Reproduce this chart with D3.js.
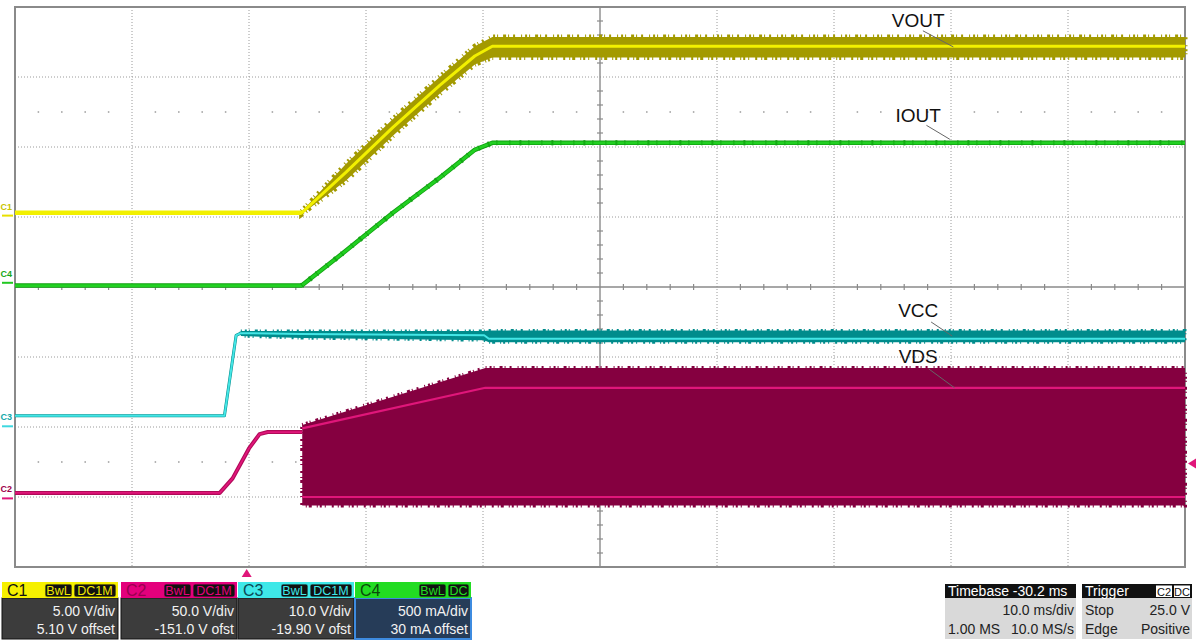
<!DOCTYPE html>
<html>
<head>
<meta charset="utf-8">
<script src="https://cdn.jsdelivr.net/npm/d3@7"></script>
<style>
  body { margin: 0; background: #fff; }
  svg { display: block; font-family: "Liberation Sans", Arial, sans-serif; }
</style>
</head>
<body>
<svg width="1200" height="642"></svg>
<script>
// Time axis in ms, trigger point at 0 (timebase -30.2 ms, 10 ms/div)
var timeDomain = [-19.8, 80.2];

// Channel setup
var channelNames = ["C1", "C2", "C3", "C4"];
var channelScales = [5.0, 50.0, 10.0, 0.5];      // units per div
var channelOffsets = [5.10, -151.0, -19.90, 0.03]; // units
var scaleLabels = ["5.00 V/div", "50.0 V/div", "10.0 V/div", "500 mA/div"];
var offsetLabels = ["5.10 V offset", "-151.0 V ofst", "-19.90 V ofst", "30 mA offset"];
var couplingBadges = [["BwL", "DC1M"], ["BwL", "DC1M"], ["BwL", "DC1M"], ["BwL", "DC"]];

// VOUT (C1, V)
var voutTime = [-19.8, 4.7, 8.5, 12.5, 16.5, 19.5, 21.0, 80.2];
var voutMid  = [0.2, 0.2, 3.1, 6.3, 9.3, 11.4, 12.1, 12.1];
var voutHigh = [0.3, 0.3, 3.7, 6.9, 9.9, 12.1, 12.75, 12.75];
var voutLow  = [0.1, 0.1, 2.5, 5.7, 8.7, 10.8, 11.3, 11.3];

// IOUT (C4, A)
var ioutTime = [-19.8, 4.7, 8.5, 12.5, 16.5, 19.5, 21.0, 80.2];
var ioutMid  = [-0.02, -0.02, 0.23, 0.5, 0.75, 0.95, 1.0, 1.0];

// VCC (C3, V)
var vccTime = [-19.8, -1.9, -0.9, -0.5, 4.7, 20.3, 20.7, 80.2];
var vccMid  = [1.5, 1.5, 13.0, 13.3, 13.2, 13.0, 12.5, 12.5];
var vccHigh = [1.6, 1.6, 13.2, 13.6, 13.6, 13.6, 13.7, 13.7];
var vccLow  = [1.3, 1.3, 12.8, 12.9, 12.6, 12.3, 12.0, 12.0];

// VDS (C2, V) before switching starts
var vdsTime = [-19.8, -2.3, -1.2, 0.2, 1.1, 1.8, 4.75];
var vdsMid  = [3.9, 3.9, 14.3, 35.7, 45.9, 47.4, 47.4];
// VDS switching envelope and its two bright levels
var vdsBandTime = [4.75, 20.4, 80.2];
var vdsBandHigh = [52.4, 93.1, 93.1];
var vdsBandLow  = [-5.0, -5.0, -5.0];
var vdsUpper    = [50.0, 79.0, 79.0];
var vdsLower    = [1.0, 1.0, 1.0];

// Trigger
var triggerTime = 0;
var triggerLevel = 25.0; // V on C2

// Annotations
var annotationText = ["VOUT", "IOUT", "VCC", "VDS"];

// ---------------------------------------------------------------
var svg = d3.select("svg");
var plot = { left: 15, right: 1185, top: 7, bottom: 567 };

var x = d3.scaleLinear().domain(timeDomain).range([plot.left, plot.right]);
var yDiv = d3.scaleLinear().domain([-4, 4]).range([plot.bottom, plot.top]);
function yCh(ch, v) {
  return yDiv((v + channelOffsets[ch]) / channelScales[ch]);
}

var traceColors = {
  C1: { band: "#a39a00", line: "#f2f000" },
  C2: { band: "#850040", line: "#e0167a", dark: "#b00a58" },
  C3: { band: "#008c8c", line: "#44e6e6" },
  C4: { band: "#10a010", line: "#22d022" }
};
// ragged edge look of the acquisition noise (style only)
var raggedDash = "1,3,2,2,1,5,3,2,1,4,2,6";

// Grid
var grid = svg.append("g").attr("id", "grid");
var xDivTimes = d3.range(11).map((i) => timeDomain[0] + i * 10);
var centerTime = timeDomain[0] + 50;

grid.selectAll("line.vgrid")
  .data(xDivTimes.slice(1, 10).filter((t, i) => i !== 4))
  .enter().append("line")
  .attr("x1", (t) => x(t)).attr("x2", (t) => x(t))
  .attr("y1", plot.top).attr("y2", plot.bottom)
  .attr("stroke", "#9a9a9a").attr("stroke-dasharray", "1,2");

grid.selectAll("line.hgrid")
  .data([-3, -2, -1, 1, 2, 3])
  .enter().append("line")
  .attr("x1", plot.left).attr("x2", plot.right)
  .attr("y1", (d) => yDiv(d)).attr("y2", (d) => yDiv(d))
  .attr("stroke", "#9a9a9a").attr("stroke-dasharray", "1,2");

// dot rows at +-2.5 div
var subTimes = d3.range(1, 50).filter((i) => i % 5 !== 0).map((i) => timeDomain[0] + i * 2);
[2.5, -2.5].forEach((d) => {
  grid.selectAll(null)
    .data(subTimes)
    .enter().append("rect")
    .attr("x", (t) => x(t) - 0.75).attr("y", yDiv(d) - 0.75)
    .attr("width", 1.5).attr("height", 1.5)
    .attr("fill", "#9a9a9a");
});

// center axes with ticks
grid.append("line")
  .attr("x1", plot.left).attr("x2", plot.right)
  .attr("y1", yDiv(0)).attr("y2", yDiv(0))
  .attr("stroke", "#8a8a8a").attr("stroke-width", 1.4);
grid.append("line")
  .attr("x1", x(centerTime)).attr("x2", x(centerTime))
  .attr("y1", plot.top).attr("y2", plot.bottom)
  .attr("stroke", "#8a8a8a").attr("stroke-width", 1.4);

grid.selectAll(null)
  .data(subTimes)
  .enter().append("line")
  .attr("x1", (t) => x(t)).attr("x2", (t) => x(t))
  .attr("y1", yDiv(0) - 3).attr("y2", yDiv(0) + 3)
  .attr("stroke", "#8a8a8a").attr("stroke-width", 1.2);

grid.selectAll(null)
  .data(d3.range(-19, 20).filter((i) => i % 5 !== 0).map((i) => i * 0.2))
  .enter().append("line")
  .attr("x1", x(centerTime) - 3).attr("x2", x(centerTime) + 3)
  .attr("y1", (d) => yDiv(d)).attr("y2", (d) => yDiv(d))
  .attr("stroke", "#8a8a8a").attr("stroke-width", 1.2);

grid.append("rect")
  .attr("x", plot.left).attr("y", plot.top)
  .attr("width", plot.right - plot.left).attr("height", plot.bottom - plot.top)
  .attr("fill", "none").attr("stroke", "#8a8a8a").attr("stroke-width", 2);

// Traces
var traces = svg.append("g").attr("id", "traces");

function bandArea(ch) {
  return d3.area()
    .x((d) => x(d[0]))
    .y0((d) => yCh(ch, d[1]))
    .y1((d) => yCh(ch, d[2]));
}
function traceLine(ch) {
  return d3.line()
    .x((d) => x(d[0]))
    .y((d) => yCh(ch, d[1]));
}
// noisy part of a trace: filled envelope with ragged edges
function drawBand(ch, data, color, ragged) {
  traces.append("path")
    .datum(data)
    .attr("d", bandArea(ch))
    .attr("fill", color)
    .attr("stroke", color)
    .attr("stroke-width", ragged)
    .attr("stroke-dasharray", raggedDash);
}
function drawLine(ch, data, color, width) {
  traces.append("path")
    .datum(data)
    .attr("d", traceLine(ch))
    .attr("fill", "none")
    .attr("stroke", color)
    .attr("stroke-width", width)
    .attr("stroke-linejoin", "round");
}

// C2 VDS
drawBand(1, d3.zip(vdsBandTime, vdsBandLow, vdsBandHigh), traceColors.C2.band, 4);
drawLine(1, d3.zip(vdsTime, vdsMid), traceColors.C2.dark, 4);
drawLine(1, d3.zip(vdsTime, vdsMid), traceColors.C2.line, 1.8);
[vdsUpper, vdsLower].forEach((level) => {
  drawLine(1, d3.zip(vdsBandTime, level), traceColors.C2.line, 2.2);
});

// C3 VCC (noise only after the supply comes up)
drawBand(2, d3.zip(vccTime, vccLow, vccHigh).filter((d) => d[0] >= -0.5), traceColors.C3.band, 3);
drawLine(2, d3.zip(vccTime, vccMid), traceColors.C3.band, 3);
drawLine(2, d3.zip(vccTime, vccMid), traceColors.C3.line, 2);

// C4 IOUT
drawLine(3, d3.zip(ioutTime, ioutMid), traceColors.C4.band, 4.5);
drawLine(3, d3.zip(ioutTime, ioutMid), traceColors.C4.line, 2.8);
traces.append("path")
  .datum(d3.zip(ioutTime, ioutMid).filter((d) => d[0] >= 4.7))
  .attr("d", traceLine(3))
  .attr("fill", "none").attr("stroke", traceColors.C4.band).attr("stroke-width", 5.5)
  .attr("stroke-dasharray", "1,9,2,7,1,12").attr("opacity", 0.8);

// C1 VOUT (noise band once the output ramps)
drawBand(0, d3.zip(voutTime, voutLow, voutHigh).filter((d) => d[0] >= 4.7), traceColors.C1.band, 5);
drawLine(0, d3.zip(voutTime, voutMid), traceColors.C1.line, 3);
drawLine(0, d3.zip(voutTime, voutMid).filter((d) => d[0] <= 4.7), traceColors.C1.line, 4.5);

// Annotations: text position (time, div) and leader line (time, div)
var annotationLayout = [
  { t: 57.4, d: 3.71, lx1: 57.8, ly1: 3.66, lx2: 60.4, ly2: 3.43 },
  { t: 57.4, d: 2.36, lx1: 58.1, ly1: 2.31, lx2: 60.1, ly2: 2.11 },
  { t: 57.4, d: -0.43, lx1: 58.5, ly1: -0.5, lx2: 60.3, ly2: -0.7 },
  { t: 57.4, d: -1.09, lx1: 58.3, ly1: -1.17, lx2: 60.5, ly2: -1.44 }
];
var notes = svg.append("g").attr("id", "notes");
notes.selectAll("line")
  .data(annotationLayout)
  .enter().append("line")
  .attr("x1", (a) => x(a.lx1)).attr("y1", (a) => yDiv(a.ly1))
  .attr("x2", (a) => x(a.lx2)).attr("y2", (a) => yDiv(a.ly2))
  .attr("stroke", "#666").attr("stroke-width", 1);
notes.selectAll("text")
  .data(annotationLayout)
  .enter().append("text")
  .attr("x", (a) => x(a.t)).attr("y", (a) => yDiv(a.d))
  .attr("text-anchor", "middle")
  .attr("font-size", 19)
  .attr("fill", "#111")
  .text((a, i) => annotationText[i]);

// Channel tags and ground markers at left edge
var tagColors = ["#c8c400", "#a0004a", "#11a8a8", "#18a818"];
var markerColors = ["#e8e000", "#e0167a", "#3ed8e0", "#22c822"];
var tags = svg.append("g").attr("id", "tags");
channelNames.forEach((name, ch) => {
  var y0 = yCh(ch, 0);
  tags.append("line")
    .attr("x1", 2).attr("x2", 13)
    .attr("y1", y0).attr("y2", y0)
    .attr("stroke", markerColors[ch]).attr("stroke-width", 2);
  tags.append("text")
    .attr("x", 0.5).attr("y", y0 - 6)
    .attr("font-size", 9).attr("font-weight", "bold")
    .attr("fill", tagColors[ch])
    .text(name);
});

// Trigger markers
var trig = svg.append("g").attr("id", "trigger");
var tx = x(triggerTime);
trig.append("path")
  .attr("d", `M${tx - 5},${plot.bottom + 10} L${tx + 5},${plot.bottom + 10} L${tx},${plot.bottom + 2} Z`)
  .attr("fill", "#e0167a");
var ty = yCh(1, triggerLevel);
trig.append("path")
  .attr("d", `M${plot.right + 11},${ty - 5} L${plot.right + 11},${ty + 5} L${plot.right + 3},${ty} Z`)
  .attr("fill", "#e0167a");

// Bottom panel: channel descriptors
var panel = svg.append("g").attr("id", "panel");
var boxLeft = [2, 121, 238, 355];
var boxW = 116;
var headerY = 582, headerH = 16, bodyH = 41;
var headerColors = ["#f6f000", "#e4007c", "#3ee8e8", "#22dc22"];
var headerText = ["#111", "#9a0050", "#0a4a55", "#0a4a0a"];
var badgeText = ["#f0e800", "#e4007c", "#3ee8e8", "#22dc22"];
var badgeW = { BwL: 27, DC1M: 42, DC: 21 };

channelNames.forEach((name, ch) => {
  var g = panel.append("g").attr("transform", `translate(${boxLeft[ch]},0)`);
  g.append("rect")
    .attr("x", 0).attr("y", headerY + headerH)
    .attr("width", boxW).attr("height", bodyH)
    .attr("fill", ch === 3 ? "#263c58" : "#3c3c3c")
    .attr("stroke", ch === 3 ? "#3d8be0" : "#111")
    .attr("stroke-width", ch === 3 ? 2 : 1);
  g.append("rect")
    .attr("x", 0).attr("y", headerY)
    .attr("width", boxW).attr("height", headerH)
    .attr("fill", headerColors[ch]);
  g.append("text")
    .attr("x", 5).attr("y", headerY + 14)
    .attr("font-size", 16).attr("fill", headerText[ch])
    .text(name);

  var right = boxW - 2;
  couplingBadges[ch].slice().reverse().forEach((b) => {
    var w = badgeW[b];
    right -= w;
    g.append("rect")
      .attr("x", right).attr("y", headerY + 2)
      .attr("width", w).attr("height", headerH - 3)
      .attr("rx", 2)
      .attr("fill", "#111").attr("stroke", badgeText[ch]).attr("stroke-width", 0.8);
    g.append("text")
      .attr("x", right + w / 2).attr("y", headerY + 13)
      .attr("text-anchor", "middle")
      .attr("font-size", 12.5).attr("fill", badgeText[ch])
      .text(b);
    right -= 2;
  });

  g.append("text")
    .attr("x", boxW - 3).attr("y", 616)
    .attr("text-anchor", "end").attr("font-size", 14).attr("fill", "#f2f2f2")
    .text(scaleLabels[ch]);
  g.append("text")
    .attr("x", boxW - 3).attr("y", 634)
    .attr("text-anchor", "end").attr("font-size", 14).attr("fill", "#f2f2f2")
    .text(offsetLabels[ch]);
});

// Timebase and trigger descriptors
var timebaseRows = [["", "10.0 ms/div"], ["1.00 MS", "10.0 MS/s"]];
var triggerRows = [["Stop", "25.0 V"], ["Edge", "Positive"]];
var infoBoxes = [
  { x: 945, w: 131, title: "Timebase -30.2 ms", rows: timebaseRows, badges: [] },
  { x: 1082, w: 110, title: "Trigger", rows: triggerRows, badges: ["C2", "DC"] }
];
infoBoxes.forEach((box) => {
  var g = panel.append("g").attr("transform", `translate(${box.x},0)`);
  g.append("rect")
    .attr("x", 0).attr("y", 597).attr("width", box.w).attr("height", 42)
    .attr("fill", "#d9d9d9");
  g.append("rect")
    .attr("x", 0).attr("y", 584).attr("width", box.w).attr("height", 14)
    .attr("fill", "#111");
  g.append("text")
    .attr("x", 3).attr("y", 596)
    .attr("font-size", 14).attr("fill", "#fff")
    .text(box.title);
  var right = box.w - 1;
  box.badges.slice().reverse().forEach((b) => {
    right -= 17;
    g.append("rect")
      .attr("x", right).attr("y", 585.5).attr("width", 16).attr("height", 11.5)
      .attr("fill", "#fff");
    g.append("text")
      .attr("x", right + 8).attr("y", 595.5)
      .attr("text-anchor", "middle").attr("font-size", 11)
      .attr("fill", "#111")
      .text(b);
    right -= 1;
  });
  box.rows.forEach((row, i) => {
    var yy = 615 + i * 19;
    g.append("text")
      .attr("x", 3).attr("y", yy)
      .attr("font-size", 14).attr("fill", "#222")
      .text(row[0]);
    g.append("text")
      .attr("x", box.w - 2).attr("y", yy)
      .attr("text-anchor", "end").attr("font-size", 14).attr("fill", "#222")
      .text(row[1]);
  });
});
</script>
</body>
</html>
